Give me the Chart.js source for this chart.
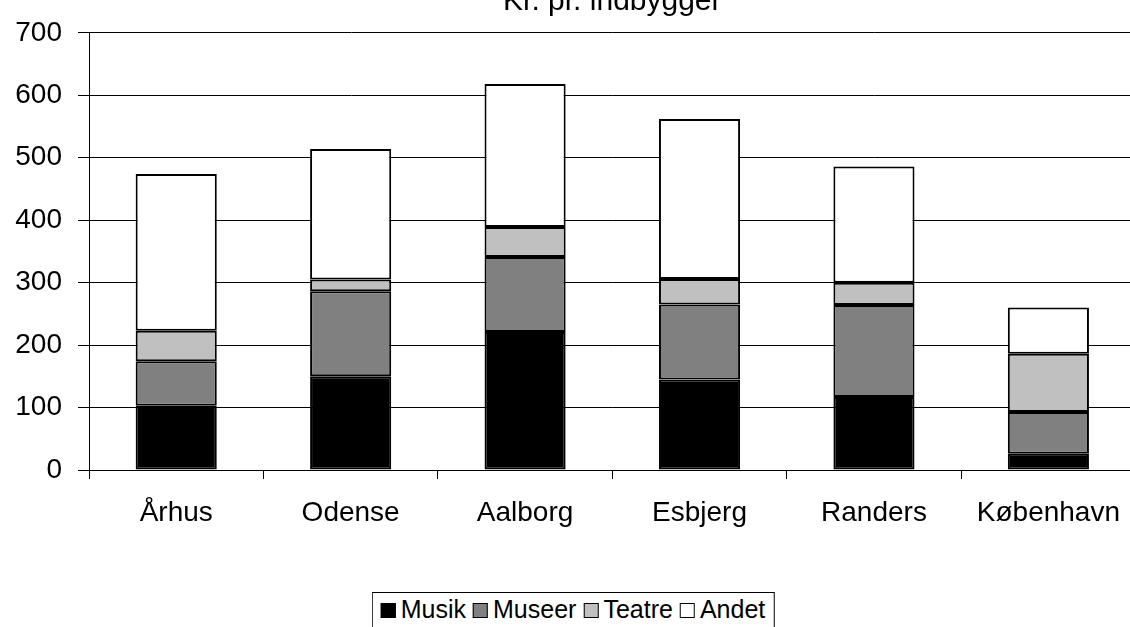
<!DOCTYPE html>
<html>
<head>
<meta charset="utf-8">
<script src="https://cdn.jsdelivr.net/npm/chart.js@4"></script>
<style>
  html, body { margin: 0; padding: 0; background: #fff; overflow: hidden; }
  #wrap { position: relative; width: 1137px; height: 627px; }
  #legend {
    position: absolute; left: 573px; top: 592px; transform: translateX(-50%);
    border: 1px solid #000; background: #fff; white-space: nowrap;
    font-family: "Liberation Sans", Arial, sans-serif; font-size: 25px; line-height: 30px;
    padding: 1px 8px 10px 8px; color: #000;
  }
  #legend span.item { margin-right: 7px; }
  #legend span.item:last-child { margin-right: 0; }
  #legend i { display: inline-block; width: 13px; height: 13px; border: 1px solid #000; margin-right: 5px; vertical-align: baseline; }
</style>
</head>
<body>
<div id="wrap">
  <canvas id="myChart" width="1137" height="627"></canvas>
  <div id="legend"></div>
</div>
<script>
const cities = ["Århus", "Odense", "Aalborg", "Esbjerg", "Randers", "København"];
const musik  = [103, 150, 221, 145, 117, 26];
const museer = [71, 136, 120, 120, 147, 67];
const teatre = [49, 19, 48, 41, 36, 93];
const andet  = [251, 209, 229, 256, 186, 74];
const yTicks = [0, 100, 200, 300, 400, 500, 600, 700];
const titleText = "Kr. pr. indbygger";

const font = "'Liberation Sans', Arial, sans-serif";

const titlePlugin = {
  id: "topTitle",
  afterDraw(chart) {
    const ctx = chart.ctx;
    const a = chart.chartArea;
    ctx.save();
    ctx.font = "30px " + font;
    ctx.fillStyle = "#000";
    ctx.textAlign = "center";
    ctx.textBaseline = "alphabetic";
    ctx.fillText(titleText, (a.left + a.right) / 2, 10);
    ctx.restore();
  }
};

function bar(label, data, color) {
  return {
    label: label,
    data: data,
    backgroundColor: color,
    borderColor: "#000",
    borderWidth: 2,
    borderSkipped: false,
    categoryPercentage: 1,
    barPercentage: 0.465
  };
}

const chart = new Chart("myChart", {
  type: "bar",
  data: {
    labels: cities,
    datasets: [
      bar("Musik", musik, "#000000"),
      bar("Museer", museer, "#808080"),
      bar("Teatre", teatre, "#c0c0c0"),
      bar("Andet", andet, "#ffffff")
    ]
  },
  options: {
    responsive: false,
    animation: false,
    layout: { padding: { top: 28, left: 0, right: 0, bottom: 0 } },
    plugins: {
      legend: { display: false },
      tooltip: { enabled: false }
    },
    scales: {
      x: {
        stacked: true,
        grid: { drawOnChartArea: false, offset: true, color: "#000", tickLength: 9, tickColor: "#000" },
        border: { color: "#000", width: 1 },
        ticks: { color: "#000", font: { family: font, size: 28 }, padding: 17, maxRotation: 0 },
        afterFit(s) { s.height = 627 - 470; }
      },
      y: {
        stacked: true,
        min: 0,
        max: 700,
        afterBuildTicks(s) { s.ticks = yTicks.map(v => ({ value: v })); },
        grid: { color: "#000", lineWidth: 1, tickLength: 11, tickColor: "#000" },
        border: { color: "#000", width: 1 },
        ticks: { color: "#000", font: { family: font, size: 28 }, padding: 16 },
        afterFit(s) { s.width = 89; }
      }
    }
  },
  plugins: [titlePlugin]
});

// legend built from the datasets
const legend = document.getElementById("legend");
chart.data.datasets.forEach(ds => {
  const item = document.createElement("span");
  item.className = "item";
  const sw = document.createElement("i");
  sw.style.background = ds.backgroundColor;
  item.appendChild(sw);
  item.appendChild(document.createTextNode(ds.label));
  legend.appendChild(item);
});
</script>
</body>
</html>
